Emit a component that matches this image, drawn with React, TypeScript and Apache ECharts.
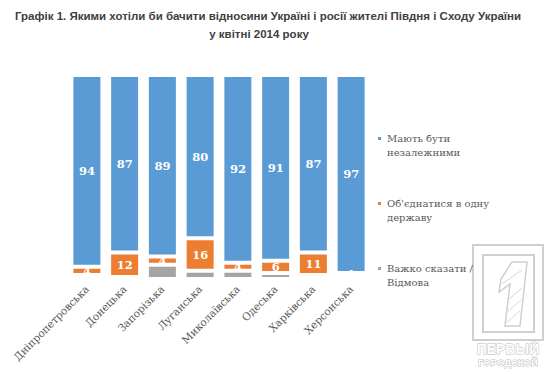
import React, { useEffect, useRef } from "react";
import * as echarts from "echarts";

const categories = [
  "Дніпропетровська",
  "Донецька",
  "Запорізька",
  "Луганська",
  "Миколаївська",
  "Одеська",
  "Харківська",
  "Херсонська",
];
const independent = [94, 87, 89, 80, 92, 91, 87, 97];
const unite = [4, 12, 4, 16, 4, 6, 11, 1];
const hardToSay = [2, 1, 7, 4, 4, 3, 2, 2];
const seriesNames = ["Мають бути\nнезалежними", "Об'єднатися в одну\nдержаву", "Важко сказати /\nВідмова"];
const titleLine1 = "Графік 1. Якими хотіли би бачити відносини Україні і росії жителі Півдня і Сходу України";
const titleLine2 = "у квітні 2014 року";

const SERIF_CYR = "DejaVu Serif";
const SANS = "Liberation Sans, Arial, sans-serif";

export default function App() {
  const ref = useRef<HTMLDivElement>(null);
  useEffect(() => {
    if (!ref.current) return;
    const chart = echarts.init(ref.current, null, { renderer: "svg" });
    const label = {
      show: true,
      position: "inside",
      color: "#fff",
      fontFamily: SERIF_CYR,
      fontWeight: "bold",
      fontSize: 11.5,
    };
    const legendIcon = "path://M0,0h0.01v0.01h-0.01zM0,5h5v5h-5zM0,27.99h0.01v0.01h-0.01z";
    const titleStyle = { fontFamily: SANS, fontWeight: "bold", fontSize: 11.5, color: "#404040" };
    chart.setOption({
      animation: false,
      title: [
        { text: titleLine1, left: 263, top: 5, textAlign: "center", textStyle: titleStyle },
        { text: titleLine2, left: 254, top: 23, textAlign: "center", textStyle: titleStyle },
      ],
      legend: {
        orient: "vertical",
        left: 376,
        top: 130,
        padding: 0,
        z: 20,
        itemWidth: 5,
        itemHeight: 28,
        itemGap: 35,
        icon: legendIcon,
        textStyle: { fontFamily: SERIF_CYR, fontSize: 10, color: "#595959", lineHeight: 14 },
        data: seriesNames,
      },
      grid: { left: 68, top: 75, width: 302, height: 204 },
      xAxis: {
        type: "category",
        data: categories,
        axisLine: { show: false },
        axisTick: { show: false },
        axisLabel: {
          rotate: 45,
          interval: 0,
          margin: 8,
          fontFamily: SERIF_CYR,
          fontSize: 10.5,
          color: "#595959",
        },
      },
      yAxis: { type: "value", min: 0, max: 100, show: false },
      series: [
        {
          name: seriesNames[2],
          type: "bar",
          stack: "all",
          barWidth: 31,
          data: hardToSay,
          itemStyle: { color: "#a5a5a5", borderColor: "#fff", borderWidth: 2 },
          label: { show: false },
        },
        {
          name: seriesNames[1],
          type: "bar",
          stack: "all",
          barWidth: 31,
          data: unite,
          itemStyle: { color: "#ed7d31", borderColor: "#fff", borderWidth: 2 },
          label,
        },
        {
          name: seriesNames[0],
          type: "bar",
          stack: "all",
          barWidth: 31,
          data: independent,
          itemStyle: { color: "#5b9bd5", borderColor: "#fff", borderWidth: 2 },
          label,
        },
      ],
      graphic: [
        {
          type: "group",
          silent: true,
          z: 0,
          children: [
            { type: "rect", shape: { x: 473, y: 245, width: 70, height: 95 }, style: { fill: "none", stroke: "#cfcfcf", lineWidth: 2 } },
            { type: "rect", shape: { x: 483, y: 255, width: 51, height: 77 }, style: { fill: "none", stroke: "#cfcfcf", lineWidth: 2 } },
            {
              type: "polygon",
              shape: { points: [[512, 262], [527, 262], [520, 326], [505, 326], [510, 284], [499, 292], [501, 279]] },
              style: { fill: "none", stroke: "#cfcfcf", lineWidth: 1.5 },
            },
            { type: "line", shape: { x1: 508, y1: 300, x2: 522, y2: 288 }, style: { stroke: "#d8d8d8", lineWidth: 1 } },
            { type: "line", shape: { x1: 507, y1: 312, x2: 521, y2: 300 }, style: { stroke: "#d8d8d8", lineWidth: 1 } },
            { type: "line", shape: { x1: 506, y1: 323, x2: 520, y2: 311 }, style: { stroke: "#d8d8d8", lineWidth: 1 } },
            { type: "line", shape: { x1: 502, y1: 284, x2: 522, y2: 270 }, style: { stroke: "#d8d8d8", lineWidth: 1 } },
            {
              type: "text",
              x: 508,
              y: 349,
              style: { text: "ПЕРВЫЙ", fontFamily: SANS, fontWeight: "bold", fontSize: 14, fill: "#fff", stroke: "#bdbdbd", lineWidth: 1, align: "center", verticalAlign: "middle" },
            },
            {
              type: "text",
              x: 508,
              y: 362,
              style: { text: "ГОРОДСКОЙ", fontFamily: SANS, fontWeight: "bold", fontSize: 9.5, fill: "#fff", stroke: "#bdbdbd", lineWidth: 1, align: "center", verticalAlign: "middle" },
            },
          ],
        },
      ],
    });
    return () => chart.dispose();
  }, []);
  return <div ref={ref} style={{ width: 552, height: 374, position: "absolute", left: 0, top: 0 }} />;
}
